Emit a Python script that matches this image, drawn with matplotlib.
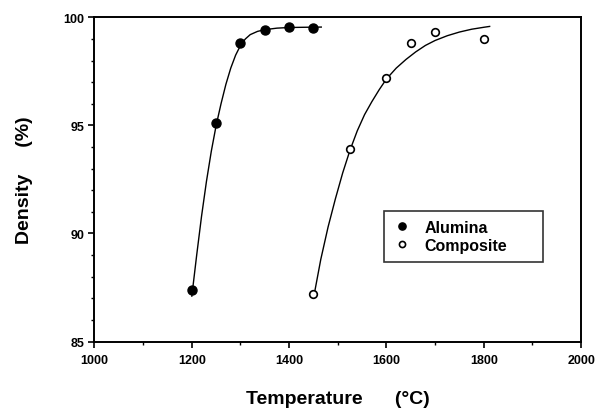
import matplotlib.pyplot as plt
from matplotlib.ticker import MultipleLocator

plt.rcParams["font.family"] = ["Liberation Sans", "DejaVu Sans"]
plt.rcParams["font.weight"] = "bold"

# measured points
alumina_temp = [1200, 1250, 1300, 1350, 1400, 1450]
alumina_density = [87.4, 95.1, 98.8, 99.4, 99.55, 99.5]

composite_temp = [1450, 1525, 1600, 1650, 1700, 1800]
composite_density = [87.2, 93.9, 97.2, 98.8, 99.3, 99.0]

# fitted curves
alumina_fit_temp = [1200, 1210, 1220, 1230, 1240, 1250, 1260, 1270, 1280,
                    1290, 1300, 1310, 1320, 1335, 1350, 1375, 1400, 1430, 1466]
alumina_fit_density = [87.1, 89.0, 90.8, 92.4, 93.8, 95.0, 96.0, 96.9, 97.65,
                       98.25, 98.7, 99.0, 99.2, 99.35, 99.43, 99.5, 99.53, 99.54, 99.55]

composite_fit_temp = [1450, 1465, 1480, 1495, 1510, 1525, 1540, 1555, 1570,
                      1585, 1600, 1620, 1640, 1660, 1680, 1700, 1725, 1750,
                      1775, 1800, 1812]
composite_fit_density = [87.0, 88.8, 90.3, 91.6, 92.8, 93.85, 94.75, 95.5, 96.1,
                         96.65, 97.15, 97.65, 98.05, 98.4, 98.7, 98.93, 99.15, 99.32,
                         99.45, 99.54, 99.58]

fig = plt.figure(figsize=(6.16, 4.14), dpi=100)
ax = fig.add_axes([0.1534, 0.1727, 0.790, 0.783])

ax.plot(alumina_fit_temp, alumina_fit_density, color="black", linewidth=1.0)
ax.plot(composite_fit_temp, composite_fit_density, color="black", linewidth=1.0)

ax.plot(alumina_temp, alumina_density, "o", color="black", markersize=6.5,
        label="Alumina")
ax.plot(composite_temp, composite_density, "o", markerfacecolor="white",
        markeredgecolor="black", markeredgewidth=1.2, markersize=5.5,
        label="Composite")

ax.set_xlim(1000, 2000)
ax.set_ylim(85, 100)
ax.xaxis.set_major_locator(MultipleLocator(200))
ax.xaxis.set_minor_locator(MultipleLocator(100))
ax.yaxis.set_major_locator(MultipleLocator(5))
ax.yaxis.set_minor_locator(MultipleLocator(1))
ax.tick_params(which="major", direction="out", length=4, width=1.2,
               labelsize=9)
ax.tick_params(which="minor", direction="out", length=2.5, width=1.0)
ax.tick_params(axis="x", pad=5)

for s in ax.spines.values():
    s.set_linewidth(1.4)

ax.set_xlabel("Temperature      (°C)", fontsize=14, fontweight="bold", labelpad=17)
ax.set_ylabel("Density     (%)", fontsize=14, fontweight="bold", labelpad=22)

leg = ax.legend(loc="upper left", bbox_to_anchor=(0.595, 0.226, 0.327, 0.177),
                mode="expand", borderaxespad=0, frameon=True, fancybox=False,
                edgecolor="black", fontsize=11.5, handletextpad=0.8,
                borderpad=0.55, labelspacing=0.2, handlelength=1.2,
                markerscale=0.8)
leg.get_frame().set_linewidth(1.2)

plt.savefig("out.png", dpi=100)
plt.close()
